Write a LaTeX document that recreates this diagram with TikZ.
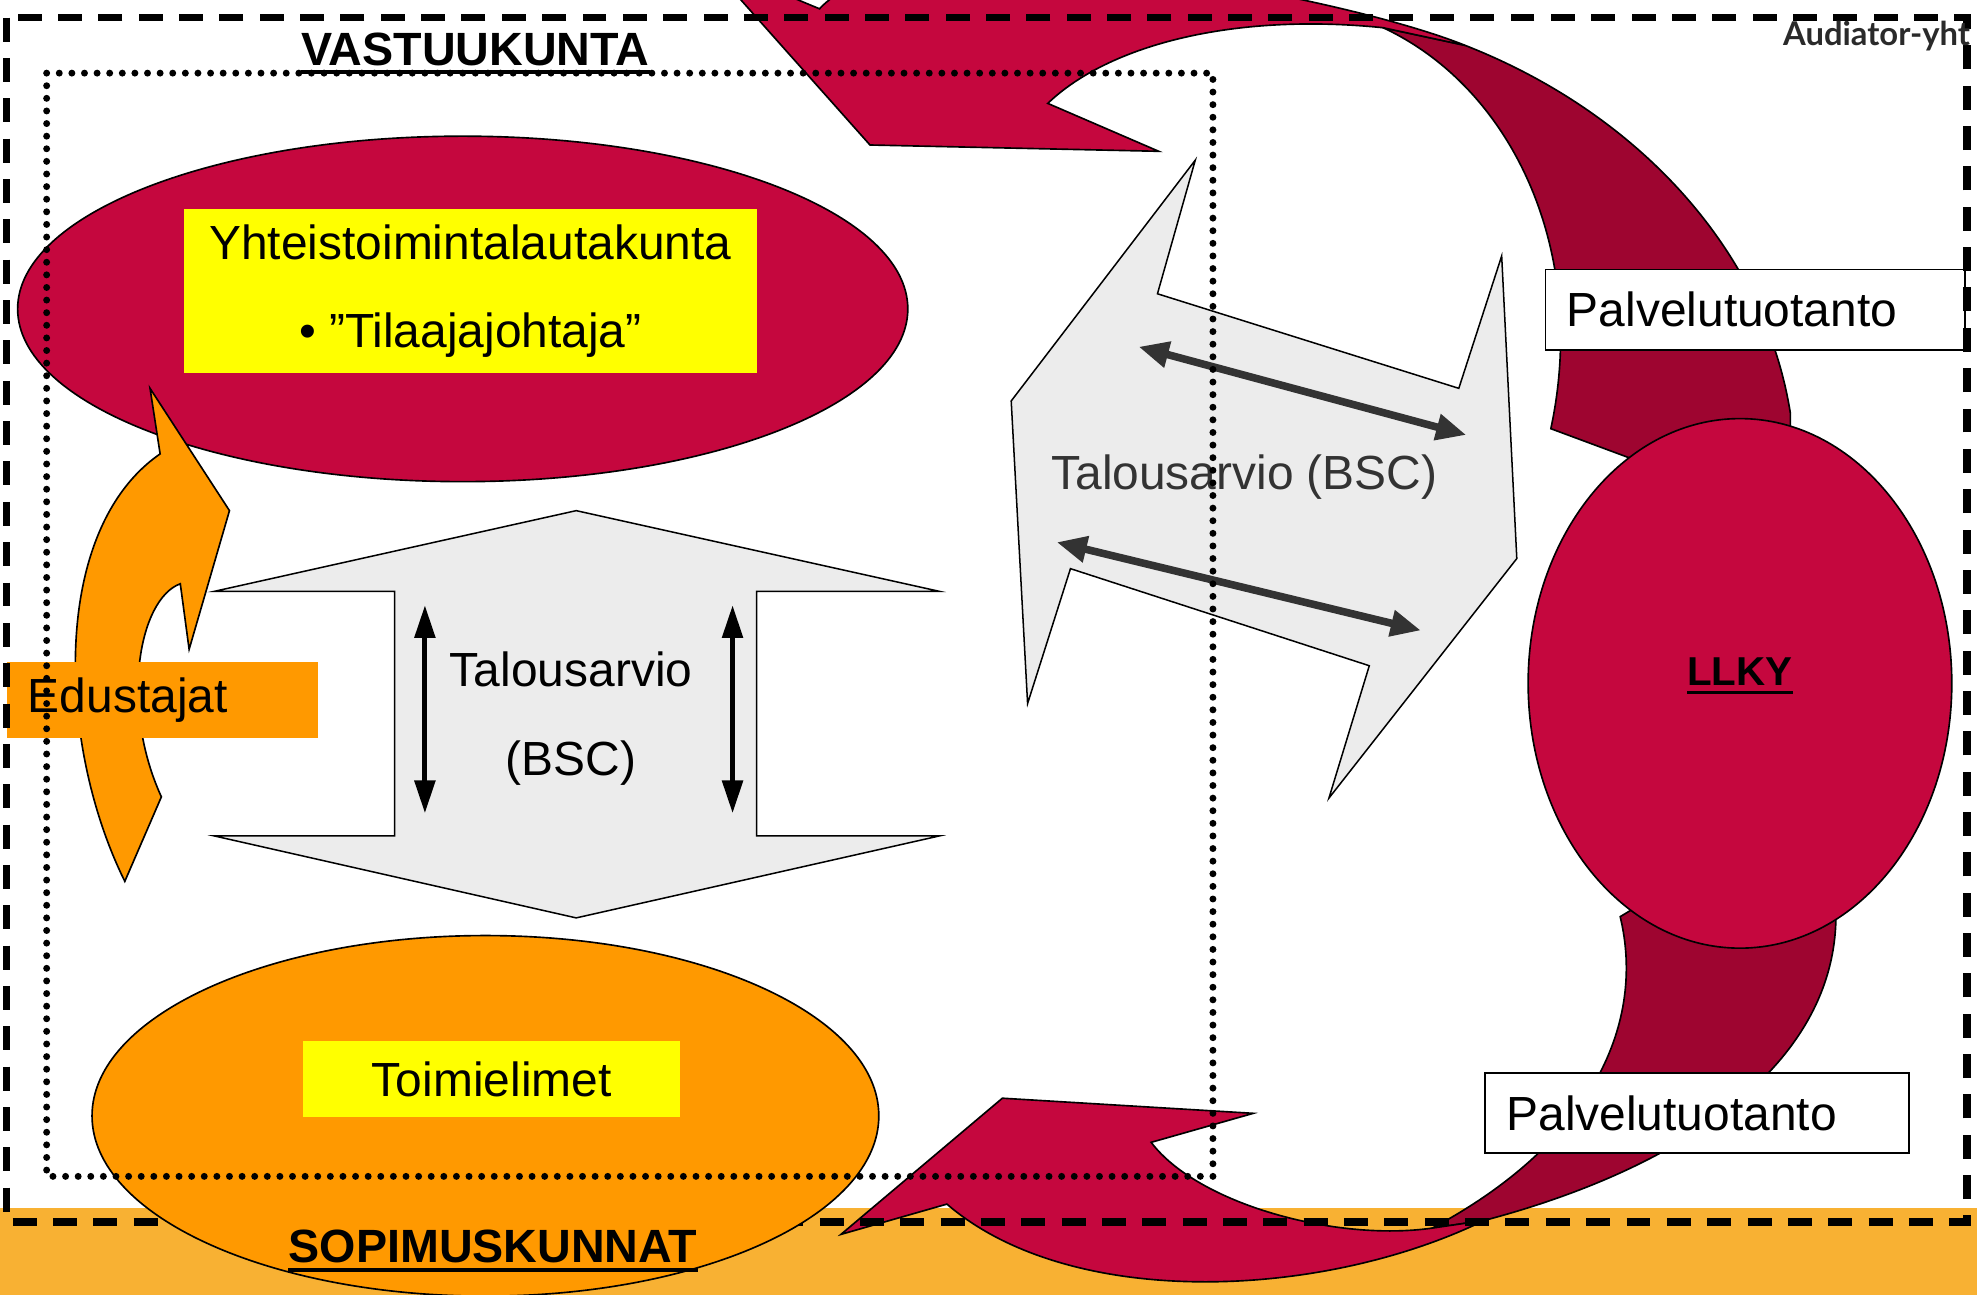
\documentclass[tikz,border=0pt]{standalone}
\usepackage{fontspec}
\setmainfont{Liberation Sans}
\newfontfamily\logofont{Lato}
\usetikzlibrary{shapes.geometric, arrows.meta, calc}

\definecolor{llkyred}{HTML}{C5073E}
\definecolor{bandred}{HTML}{9E0530}
\definecolor{unitorange}{HTML}{FF9900}
\definecolor{floororange}{HTML}{F8B133}
\definecolor{labelyellow}{HTML}{FFFF00}
\definecolor{budgetgrey}{HTML}{ECECEC}
\definecolor{inkgrey}{HTML}{333333}
\definecolor{logogrey}{HTML}{2A2A2A}

\newcommand{\bigfont}{\fontsize{38}{70}\selectfont}
\newcommand{\headfont}{\bfseries\fontsize{37}{44}\selectfont}

\tikzstyle{outline} = [draw=black, line width=1.3pt, line join=miter]
\tikzstyle{blob} = [ellipse, draw=black, line width=1.3pt, inner sep=0pt]
\tikzstyle{budget} = [draw=black, line width=1.2pt, fill=budgetgrey]
\tikzstyle{vertarrow} = [line width=4pt, {Triangle[length=26pt,width=16pt]}-{Triangle[length=26pt,width=16pt]}]
\tikzstyle{slantarrow} = [line width=6pt, inkgrey, {Triangle[length=24pt,width=20pt]}-{Triangle[length=24pt,width=20pt]}]
\tikzstyle{textbox} = [inner sep=0pt, font=\bigfont]
\tikzstyle{heading} = [inner sep=0pt, font=\headfont, anchor=base]
\tikzstyle{servicebox} = [textbox, draw=black, fill=white, line width=1.5pt, anchor=north west, minimum height=64pt, inner xsep=17pt, align=left]

\begin{document}
\begin{tikzpicture}[x=1pt, y=-1pt]
        \useasboundingbox (0,0) rectangle (1568,1027);

        % Floor band
        \fill[floororange] (0,958) rectangle (1568,1027);

        % Upper service arrow (back side)
        \draw[outline, fill=bandred] (1097,22) .. controls (1200,70) and (1260,200) .. (1230,340)
            -- (1300,366) -- (1420,366) -- (1420,328)
            .. controls (1400,200) and (1300,90) .. (1162,36) -- cycle;
        % Upper service arrow (head)
        \draw[outline, fill=llkyred] (690,115) -- (919,120) -- (831,82)
            .. controls (880,35) and (980,10) .. (1097,22) -- (1162,36)
            .. controls (1060,-5) and (720,-70) .. (650,7) -- (561,-30) -- cycle;

        % Lower service arrow (back side)
        \draw[outline, fill=bandred] (1285,727) .. controls (1305,810) and (1265,905) .. (1136,974)
            -- (1177,968) .. controls (1340,925) and (1460,840) .. (1456,720)
            -- (1310,712) -- cycle;
        % Lower service arrow (head)
        \draw[outline, fill=llkyred] (795,871) -- (994,883) -- (913,906)
            .. controls (950,955) and (1060,985) .. (1136,974) -- (1177,968)
            .. controls (1050,1030) and (850,1040) .. (751,955) -- (667,979) -- cycle;

        % Joint board
        \node[blob, fill=llkyred, minimum width=706pt, minimum height=274pt] (board) at (367,245) {};

        % Representatives arrow
        \draw[outline, fill=unitorange] (119,308) -- (182,405) -- (150,515) -- (143,463)
            .. controls (110,475) and (95,560) .. (128,632) -- (99,699)
            .. controls (45,590) and (40,420) .. (127,360) -- cycle;
        \node[textbox, fill=unitorange, anchor=west, minimum width=247pt, minimum height=60pt,
            inner xsep=17pt, text width=213pt, align=left] (edustajat) at (5,555) {Edustajat};

        % Budget between board and units
        \draw[budget] (457,405) -- (745,469) -- (600,469) -- (600,663) -- (745,663) -- (457,728)
            -- (170,663) -- (313,663) -- (313,469) -- (170,469) -- cycle;
        \coordinate (hupl) at (337,480);
        \coordinate (hdownl) at (337,645);
        \coordinate (hupr) at (581,480);
        \coordinate (hdownr) at (581,645);
        \draw[vertarrow] (hupl) -- (hdownl);
        \draw[vertarrow] (hupr) -- (hdownr);
        \node[textbox, align=center] (budgetleft) at (453,570) {Talousarvio\\(BSC)};

        % Budget between board and LLKY
        \draw[budget] (948,127) -- (802,318) -- (815,558) -- (849,451) -- (1086,528) -- (1054,633)
            -- (1203,443) -- (1191,203) -- (1157,308) -- (918,233) -- cycle;
        \coordinate (sa1) at (903,275);
        \coordinate (sb1) at (1163,345);
        \coordinate (sa2) at (838,430);
        \coordinate (sb2) at (1127,500);
        \draw[slantarrow] (sa1) -- (sb1);
        \draw[slantarrow] (sa2) -- (sb2);
        \node[textbox, text=inkgrey] (budgetright) at (987,378) {Talousarvio (BSC)};

        % LLKY
        \node[blob, fill=llkyred, minimum width=336pt, minimum height=420pt] (llky) at (1380,542) {};
        \node[heading, font=\bfseries\fontsize{32}{38}\selectfont] (llkytext) at (1380,544) {LLKY};
        \draw[line width=2.5pt] ([yshift=-5pt]llkytext.base west) -- ([yshift=-5pt]llkytext.base east);

        % Service production labels
        \node[servicebox, minimum width=333pt, text width=299pt] (servtop) at (1225,213) {Palvelutuotanto};
        \node[servicebox, minimum width=336pt, text width=302pt] (servbottom) at (1177,850) {Palvelutuotanto};

        % Outer frame
        \draw[line width=6pt, dash pattern=on 19pt off 13pt] (5,14) rectangle (1560,969);

        % Contract municipalities
        \node[blob, fill=unitorange, minimum width=624pt, minimum height=286pt] (units) at (385,885) {};
        \node[textbox, fill=labelyellow, minimum width=299pt, minimum height=60pt] (toimielimet) at (390,856) {Toimielimet};

        % Joint board label
        \node[textbox, fill=labelyellow, minimum width=454pt, minimum height=130pt, align=center] (boardlabel)
            at (373,231) {Yhteistoimintalautakunta\\• ”Tilaajajohtaja”};

        % Responsible municipality
        \draw[line width=5.5pt, line cap=round, dash pattern=on 0pt off 10pt] (37,58) rectangle (962,933);
        \node[heading] (vastuu) at (377,52) {VASTUUKUNTA};
        \draw[line width=3pt] ([yshift=-5pt]vastuu.base west) -- ([yshift=-5pt]vastuu.base east);
        \node[heading] (sopimus) at (391,1001) {SOPIMUSKUNNAT};
        \draw[line width=3pt] ([yshift=-6pt]sopimus.base west) -- ([yshift=-6pt]sopimus.base east);

        % Logo
        \node[anchor=base west, inner sep=0pt, text=logogrey, font=\logofont\bfseries\fontsize{26}{32}\selectfont]
            (audiator) at (1414,36) {Audiator-yht};

\end{tikzpicture}
\end{document}
